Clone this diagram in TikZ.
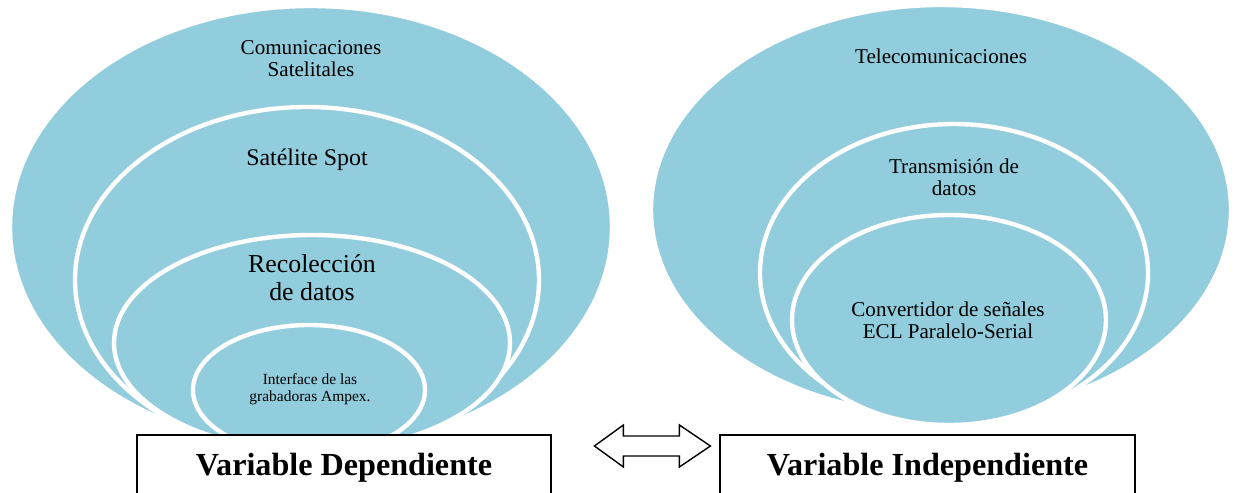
\documentclass[tikz,border=0pt]{standalone}
\usepackage{fontspec}
\setmainfont{Liberation Serif}
\definecolor{aqua}{RGB}{146,205,221}
\begin{document}
\begin{tikzpicture}[x=0.02cm, y=-0.02cm,
    ring/.style={fill=aqua, draw=white, line width=2.5pt},
    tag/.style={align=center, inner sep=0pt},
    varbox/.style={draw, line width=1.1pt, fill=white, minimum width=8.3cm,
      minimum height=1.3cm, font=\fontsize{18.3}{20}\selectfont\bfseries}]
    \clip (0,0) rectangle (1245,493);

    % variable dependiente
    \draw (311,227) [ring] ellipse [x radius=301, y radius=221];
    \draw (307,280) [ring] ellipse [x radius=232, y radius=173];
    \draw (312,343) [ring] ellipse [x radius=198, y radius=108];
    \draw (309,390) [ring] ellipse [x radius=116, y radius=65];

    \node [tag, font=\fontsize{12}{12.5}\selectfont] (comsat) at (311,59)
      {Comunicaciones\\Satelitales};
    \node [tag, font=\fontsize{13.6}{16}\selectfont] (spot) at (307,160)
      {Satélite Spot};
    \node [tag, font=\fontsize{14.7}{16}\selectfont] (recol) at (312,278)
      {Recolección\\de datos};
    \node [tag, font=\fontsize{8.8}{9.8}\selectfont] (ampex) at (310,389)
      {Interface de las\\grabadoras Ampex.};

    % variable independiente
    \draw (941,210) [ring] ellipse [x radius=290, y radius=205];
    \draw (954,273) [ring] ellipse [x radius=194, y radius=149];
    \draw (949,320) [ring] ellipse [x radius=157, y radius=105];

    \node [tag, font=\fontsize{12}{12.5}\selectfont] (telecom) at (941,56)
      {Telecomunicaciones};
    \node [tag, font=\fontsize{12}{12.5}\selectfont] (trans) at (954,177)
      {Transmisión de\\datos};
    \node [tag, font=\fontsize{12}{12.5}\selectfont] (ecl) at (948,320)
      {Convertidor de señales\\ECL Paralelo-Serial};

    % cajas
    \node [varbox] (dep) at (344,467.5) {Variable Dependiente};
    \node [varbox] (indep) at (927.5,467.5) {Variable Independiente};

    \coordinate (tip) at ([xshift=0.84cm, yshift=0.43cm]dep.east);
    \draw [line width=0.8pt, fill=white] (tip) -- ++(29,-21) -- ++(0,11)
      -- ++(56,0) -- ++(0,-11) -- ++(31,21) -- ++(-31,21) -- ++(0,-11)
      -- ++(-56,0) -- ++(0,11) -- cycle;

  \end{tikzpicture}
\end{document}
